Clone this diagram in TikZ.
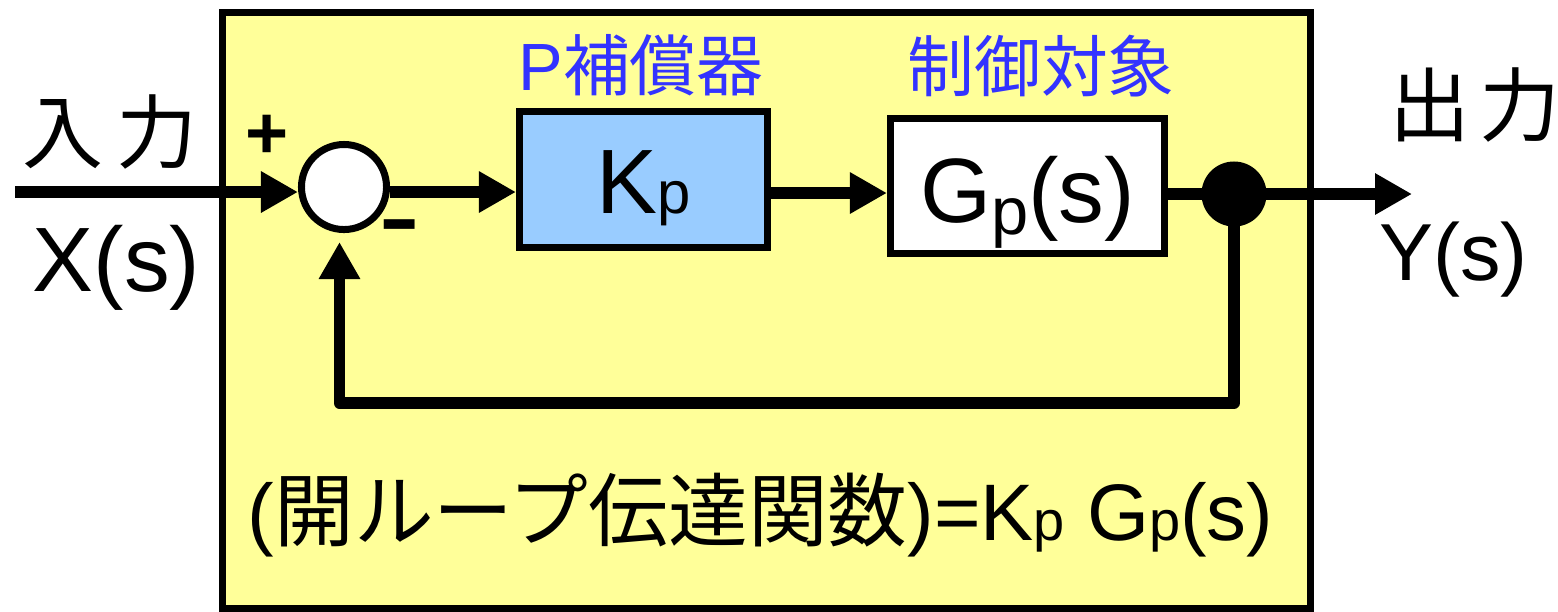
\documentclass[tikz,border=0pt]{standalone}
\usepackage{fontspec}
\setmainfont{Liberation Sans}
\newfontfamily\jp{Noto Sans CJK JP}
\usetikzlibrary{arrows.meta}
\definecolor{bgyellow}{HTML}{FFFF99}
\definecolor{kpblue}{HTML}{99CCFF}
\definecolor{lblblue}{HTML}{3333FF}
\newcommand{\fsz}[1]{\fontsize{#1}{#1}\selectfont}
\begin{document}
\begin{tikzpicture}[x=0.01cm,y=-0.01cm,
  wire/.style={line width=0.115cm, line join=round},
  arr/.style={wire,-{Triangle[length=0.37cm,width=0.39cm]}},
  blk/.style={draw, line width=0.07cm, inner sep=0pt},
  lbl/.style={inner sep=0pt}]
\useasboundingbox (0,0) rectangle (1558,611);
% frame
\node[blk, fill=bgyellow, minimum width=10.88cm, minimum height=5.95cm] (frame) at (766.5,310.5) {};
% blocks
\node[blk, fill=kpblue, minimum width=2.48cm, minimum height=1.36cm] (kp) at (643.5,179.5) {};
\node[blk, fill=white, minimum width=2.74cm, minimum height=1.35cm] (gp) at (1027.5,186) {};
\node[draw, circle, fill=white, line width=0.07cm, minimum size=0.85cm, inner sep=0pt] (sum) at (344,187) {};
% helper coordinates
\coordinate (inL) at (15,192);
\coordinate (y192) at (0,192);
\coordinate (y193) at (0,193);
\coordinate (y194) at (0,194);
\coordinate (outR) at (1412,194);
\coordinate (fbc) at (339.5,403);
% connectors
\draw[arr] (inL) -- (inL -| sum.west);
\draw[arr] (sum.east |- y192) -- (kp.west |- y192);
\draw[arr] (kp.east |- y193) -- (gp.west |- y193);
\node[circle, fill=black, minimum size=0.65cm, inner sep=0pt] (dot) at (1234,194) {};
\draw[wire] (gp.east |- y194) -- (dot.center);
\draw[arr] (dot.center) -- (outR);
\draw[arr, shorten >=0.09cm] (dot.center) |- (fbc) -- (fbc |- sum.south);
% texts
\node[lbl, anchor=base] (kptext) at (643.5,213) {\fsz{26pt}K{\fsz{17pt}p}};
\node[lbl, anchor=base] (gptext) at (1027.5,222) {\fsz{26pt}G\raisebox{-0.12cm}{\fsz{19pt}p}(s)};
\node[lbl] (inlbl) at (110,132) {\jp\fsz{23pt}入\hspace{0.13cm}力};
\node[lbl] (outlbl) at (1475,105) {\jp\fsz{23pt}出\hspace{0.1cm}力};
\node[lbl] (xs) at (116.5,267.5) {\fsz{26pt}X(s)};
\node[lbl] (ys) at (1453.5,260) {\fsz{23pt}Y(s)};
\node[lbl] (plus) at (267,137) {\fsz{21pt}\bfseries +};
\node[lbl] (minus) at (400,233) {\fsz{23pt}\bfseries\scalebox{1.5}[1]{-}};
\node[lbl, text=lblblue] (plbl) at (641,65) {\fsz{19pt}P{\jp 補償器}};
\node[lbl, text=lblblue] (ctrl) at (1041,66) {\jp\fsz{19pt}制御対象};
\node[lbl, anchor=base] (olt) at (760.5,540) {\resizebox{10.25cm}{\height}{\fsz{22.8pt}({\jp 開ループ伝達関数})=K{\fsz{16pt}p} G{\fsz{16pt}p}(s)}};
\end{tikzpicture}
\end{document}
